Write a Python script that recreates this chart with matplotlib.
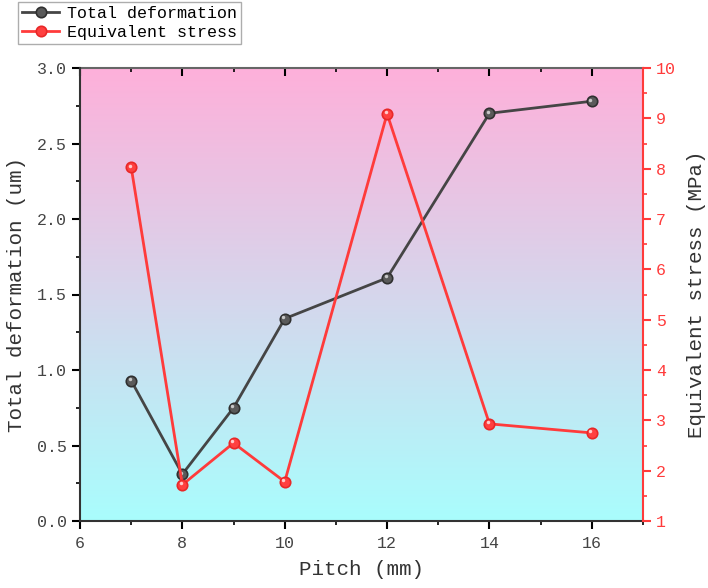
import numpy as np
import matplotlib
matplotlib.use("Agg")
import matplotlib.pyplot as plt
from matplotlib.ticker import MultipleLocator
from matplotlib.colors import LinearSegmentedColormap
from matplotlib.transforms import ScaledTranslation

plt.rcParams['font.family'] = ['Liberation Mono', 'DejaVu Sans']

pitch = [7, 8, 9, 10, 12, 14, 16]
deformation = [0.93, 0.31, 0.75, 1.34, 1.61, 2.70, 2.78]
stress = [8.03, 1.72, 2.55, 1.78, 9.09, 2.93, 2.75]

red = '#ff3b3b'
dark = '#454545'

fig = plt.figure(figsize=(7.08, 5.88), dpi=100)
ax = fig.add_axes([80 / 708, 1 - 521 / 588, 563 / 708, 453 / 588])
ax2 = ax.twinx()

# gradient background, pink on top to cyan at bottom
cmap = LinearSegmentedColormap.from_list('bg', ['#a9fdfd', '#d6d6ec', '#feb0da'])
grad = np.linspace(0, 1, 256).reshape(-1, 1)
ax.imshow(grad, cmap=cmap, aspect='auto', origin='lower',
          extent=[6, 17, 0, 3], zorder=0)

# small shift up-left for the sphere highlight
shift = ScaledTranslation(-1.5 / 100, 1.5 / 100, fig.dpi_scale_trans)

l1, = ax.plot(pitch, deformation, '-o', color=dark, lw=2, ms=7.5,
              mfc='#5a5a5a', mec='#303030', mew=1.2, zorder=3, label='Total deformation')
ax.plot(pitch, deformation, 'o', ms=2.5, color='#c8c8c8', mew=0, zorder=4,
        transform=ax.transData + shift)
l2, = ax2.plot(pitch, stress, '-o', color=red, lw=2, ms=7.5,
               mfc='#ff4040', mec='#e82828', mew=1.2, zorder=3, label='Equivalent stress')
ax2.plot(pitch, stress, 'o', ms=2.5, color='#ffcccc', mew=0, zorder=4,
         transform=ax2.transData + shift)

ax.set_xlim(6, 17)
ax.set_ylim(0, 3)
ax2.set_ylim(1, 10)

ax.xaxis.set_major_locator(MultipleLocator(2))
ax.xaxis.set_minor_locator(MultipleLocator(1))
ax.yaxis.set_major_locator(MultipleLocator(0.5))
ax.yaxis.set_minor_locator(MultipleLocator(0.25))
ax2.yaxis.set_major_locator(MultipleLocator(1))
ax2.yaxis.set_minor_locator(MultipleLocator(0.5))

ax.yaxis.set_major_formatter(matplotlib.ticker.FormatStrFormatter('%.1f'))

ax.tick_params(axis='both', which='major', direction='out', length=6, width=1.5,
               labelsize=12, labelcolor='#444444')
ax.tick_params(axis='both', which='minor', direction='out', length=3, width=1.2)
ax.tick_params(axis='x', which='major', pad=5)
ax2.tick_params(axis='y', which='major', direction='out', length=6, width=1.5,
                colors=red, labelsize=12)
ax2.tick_params(axis='y', which='minor', direction='out', length=3, width=1.2,
                colors=red)

# top axis: ticks pointing inward, no labels
top = ax.secondary_xaxis('top')
top.xaxis.set_major_locator(MultipleLocator(2))
top.xaxis.set_minor_locator(MultipleLocator(1))
top.tick_params(which='major', direction='in', length=6, width=1.5, labeltop=False)
top.tick_params(which='minor', direction='in', length=3, width=1.2)
top.spines['top'].set_color('#666666')
top.spines['top'].set_linewidth(1.5)

for s in ['left', 'bottom']:
    ax.spines[s].set_linewidth(1.5)
    ax.spines[s].set_color('#333333')
ax.spines['top'].set_visible(False)
ax2.spines['right'].set_color(red)
ax2.spines['right'].set_linewidth(1.5)
ax2.spines['left'].set_visible(False)
ax2.spines['top'].set_visible(False)
ax2.spines['bottom'].set_visible(False)
ax.spines['right'].set_visible(False)

ax.set_xlabel('Pitch (mm)', fontsize=15, color='#333333', labelpad=6)
ax.set_ylabel('Total deformation (um)', fontsize=15, color='#333333', labelpad=8)
ax2.set_ylabel('Equivalent stress (MPa)', fontsize=15, color='#333333', labelpad=8)

fig.legend([l1, l2], ['Total deformation', 'Equivalent stress'],
           loc='upper left', bbox_to_anchor=(18 / 708, 1 - 2 / 588),
           fontsize=12, frameon=True, fancybox=False, edgecolor='#999999',
           handlelength=2.2, borderpad=0.25, labelspacing=0.2,
           handletextpad=0.5, borderaxespad=0)

fig.savefig('out.png', dpi=100)
